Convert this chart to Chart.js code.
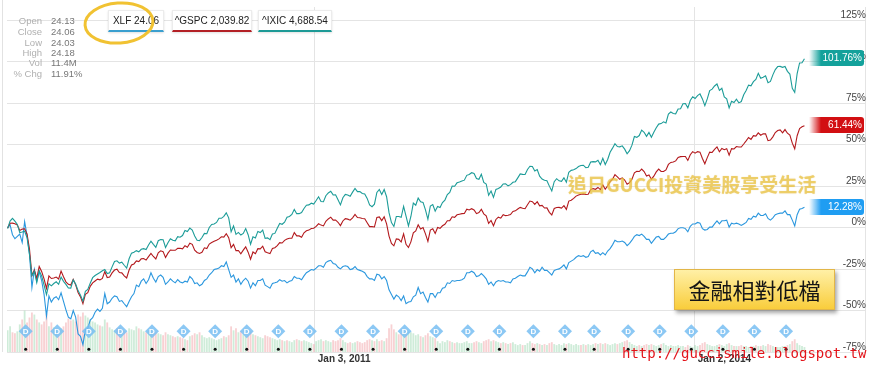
<!DOCTYPE html>
<html><head><meta charset="utf-8">
<script src="https://cdn.jsdelivr.net/npm/chart.js@4.4.1/dist/chart.umd.min.js"></script>
<style>
html,body{margin:0;padding:0;background:#fff;}
#wrap{position:relative;width:872px;height:365px;overflow:hidden;font-family:"Liberation Sans",Arial,sans-serif;}
#c{position:absolute;left:0;top:0;}
#lb{position:absolute;left:2px;top:0;width:1px;height:352px;background:#e2e2e2;}
.lab{position:absolute;font-size:9.5px;color:#b0b0b0;text-align:right;width:42px;left:0;}
.val{position:absolute;font-size:9.5px;color:#777;left:51px;}
.leg{position:absolute;top:10px;height:19px;background:#fff;border:1px solid #ececec;border-bottom:2px solid #000;box-shadow:0 1px 2px rgba(0,0,0,0.12);font-size:10px;color:#222;text-align:center;line-height:19px;white-space:nowrap;}
#wm{position:absolute;left:568px;top:170px;font-family:"Noto Sans CJK TC","Noto Sans CJK SC",sans-serif;font-weight:bold;font-size:19px;color:rgba(238,200,70,0.62);white-space:nowrap;text-shadow:0 0 1px rgba(210,160,30,0.45);}
#note{position:absolute;left:674px;top:269px;width:159px;height:39px;background:linear-gradient(#fff0a6,#f9cd3c);border:1px solid #e2b648;box-shadow:2px 3px 4px rgba(0,0,0,0.35);font-family:"Noto Sans CJK TC","Noto Sans CJK SC",sans-serif;font-size:22px;color:#151515;text-align:center;line-height:39px;}
#url{position:absolute;left:622px;top:345px;font-family:"DejaVu Sans Mono",monospace;font-size:14px;color:#e3141b;white-space:nowrap;line-height:16px;}
#ell{position:absolute;left:0;top:0;}
</style></head>
<body><div id="wrap">
<canvas id="c" width="872" height="365"></canvas>
<div id="lb"></div>
<div class="lab" style="top:15px">Open</div><div class="val" style="top:15px">24.13</div>
<div class="lab" style="top:26px">Close</div><div class="val" style="top:26px">24.06</div>
<div class="lab" style="top:37px">Low</div><div class="val" style="top:37px">24.03</div>
<div class="lab" style="top:47px">High</div><div class="val" style="top:47px">24.18</div>
<div class="lab" style="top:57px">Vol</div><div class="val" style="top:57px">11.4M</div>
<div class="lab" style="top:68px">% Chg</div><div class="val" style="top:68px">11.91%</div>
<div class="leg" style="left:108px;width:54px;border-bottom-color:#3a9fcf">XLF 24.06</div>
<div class="leg" style="left:172px;width:78px;border-bottom-color:#b32025">^GSPC 2,039.82</div>
<div class="leg" style="left:258px;width:72px;border-bottom-color:#1d9a96">^IXIC 4,688.54</div>
<svg id="ell" width="200" height="60"><ellipse cx="119" cy="23" rx="34" ry="20" transform="rotate(-4 119 23)" fill="none" stroke="#f1c232" stroke-width="3"/></svg>
<div id="wm">追日GUCCI投資美股享受生活</div>
<div id="note">金融相對低檔</div>
<div id="url">http://guccismile.blogspot.tw</div>
</div>
<script>
// ---- data (weekly, percent change since start) ----
const START_DATE = '2008-08-01';
const xlfPct = [
 0,1.7,-4.3,-6.7,-5.3,-3.9,-9.0,3.6,-4.8,-16.0,-36.1,-25.3,-32.3,-26.7,-31.9,-40.3,-53.3,-41.2,-44.9,-42.6,-41.7,-43.5,
 -39.3,-44.5,-49.6,-54,-55,-50,-54,-64.1,-65.5,-70.6,
 -61.7,-60.8,-55.7,-54.3,-51.0,-49.1,-50.5,-48.7,-39.8,-45.9,
 -44.9,-42.6,-41.2,-41.7,-44.5,-44.0,-45.9,-47.7,-44.5,-41.7,
 -39.8,-34.7,-35.6,-32.3,-30.9,-33.7,-31.4,-27.2,-30.5,-32.8,
 -29.5,-28.6,-30.0,-34.2,-32.8,-30.9,-32.3,-33.3,-31.4,-32.8,
 -33.3,-32.3,-32.8,
 -29.5,-30.9,-33.7,-33.3,-35.1,-34.2,-31.9,-30.9,-28.6,-27.2,
 -25.3,-24.9,-24.4,-23.0,-23.5,-20.7,-25.3,-30.0,-28.6,-32.8,
 -30.9,-34.2,-31.9,-30.5,-32.3,-36.5,-33.3,-35.1,-31.9,-31.9,
 -30.9,-34.7,-35.6,-36.5,-33.7,-33.3,-32.8,-31.4,-32.3,-31.9,
 -33.3,-32.3,-31.9,-29.5,-30.5,-30.5,-31.4,-29.1,-27.2,-26.3,
 -25.3,-25.6,
 -24.4,-23.0,-23.0,-23.9,-21.1,-20.2,-19.7,-21.6,-22.1,-23.9,
 -24.9,-23.5,-23.0,-23.5,-25.3,-24.9,-23.5,-25.3,-25.8,-26.3,
 -27.2,-29.5,-30.9,-30.9,-31.9,-28.1,-28.6,-30.9,-29.5,-31.9,
 -37.5,-40.3,-43.1,-40.7,-41.7,-44.0,-41.2,-45.9,-44.9,-44.5,
 -41.7,-40.7,-36.1,-39.8,-38.9,-42.1,-44.9,-39.8,-39.8,-42.1,
 -39.3,-39.3,
 -36.5,-36.1,-33.3,-33.7,-31.9,-32.3,-31.9,-31.9,-31.4,-30.5,
 -27.2,-27.2,-26.3,-27.2,-29.5,-29.1,-27.7,-29.1,-30.9,-34.2,
 -32.8,-35.1,-32.8,-31.9,-32.3,-31.9,-32.8,-32.8,-33.3,-30.9,
 -30.5,-29.5,-28.6,-29.1,-29.1,-26.7,-23.9,-24.9,-27.2,-25.3,
 -26.3,-23.9,-25.8,-25.8,-27.2,-28.6,-25.8,-25.3,-24.9,-23.9,
 -22.5,-24.9,
 -21.1,-20.2,-19.3,-17.9,-16.9,-17.4,-16.9,-17.9,-17.4,-14.6,
 -13.7,-15.5,-15.1,-16.5,-15.1,-16.5,-14.1,-12.7,-10.4,-7.6,
 -8.5,-8.5,-8.1,-9.0,-10.9,-9.5,-7.6,-5.3,-4.3,-4.8,
 -3.9,-5.3,-7.1,-7.1,-9.5,-7.6,-5.7,-5.3,-7.1,-7.1,
 -5.7,-3.9,-3.4,-3.4,-2.5,-0.6,-0.1,-0.1,-0.6,-2.5,
 0.8,2.2,
 2.2,3.1,2.7,-0.6,-1.5,-1.1,0.3,0.3,2.2,4.1,
 2.2,4.1,4.1,4.5,0.3,2.7,2.2,2.7,2.2,1.3,
 2.2,3.1,5.5,5.0,6.9,6.4,8.7,7.3,7.3,8.3,
 5.5,4.5,5.9,7.8,8.3,8.7,8.7,10.1,7.8,7.8,
 4.5,1.0,7.8,11.1,11.5,12.28
];
const gspcPct = [
 -0.3,2.6,2.7,2.3,1.5,-1.7,-0.9,-0.7,-4.0,-13.0,-28.8,-25.6,-30.6,-23.4,-26.4,-30.9,-36.7,-29.1,-30.7,-30.4,-29.8,-31.0,
 -26.2,-29.6,-32.7,-34.2,-34.6,-31.2,-34.5,-39.1,-41.8,-45.9,
 -40.2,-39.2,-35.4,-33.3,-32.2,-31.1,-31.5,-30.6,-26.5,-30.1,
 -29.8,-27.3,-25.6,-25.1,-27.1,-27.3,-29.1,-30.4,-25.6,-22.5,
 -21.9,-20.1,-20.5,-18.8,-18.6,-19.6,-17.5,-15.5,-17.4,-18.9,
 -15.2,-14.0,-14.5,-18.0,-15.4,-13.5,-13.7,-13.7,-12.5,-12.5,
 -12.8,-10.9,-11.8,
 -9.4,-10.1,-13.6,-15.0,-15.6,-14.9,-12.2,-12.6,-9.9,-9.0,
 -8.2,-7.6,-6.8,-5.5,-5.7,-3.7,-6.1,-12.1,-10.1,-13.9,
 -13.8,-15.8,-13.6,-11.6,-14.8,-19.1,-14.7,-15.7,-12.7,-12.8,
 -11.2,-14.6,-15.2,-15.7,-12.6,-12.1,-10.9,-9.1,-9.3,-7.7,
 -6.9,-6.4,-6.4,-3.0,-5.0,-5.0,-5.8,-3.1,-1.9,-1.5,
 -0.5,-0.4,
 0.7,2.3,1.5,1.0,3.8,5.2,6.3,4.5,4.6,3.2,
 1.2,4.0,5.4,5.1,4.5,5.9,8.0,6.1,5.9,5.5,
 5.3,2.9,0.6,0.6,0.4,6.1,6.4,4.2,6.5,2.3,
 -5.1,-9.5,-11.0,-6.8,-7.1,-8.7,-3.8,-10.1,-12.0,-8.6,
 -3.1,-2.0,1.7,-0.8,0.0,-3.8,-8.3,-1.5,-0.7,-3.5,
 0.1,-0.4,
 1.1,2.0,4.1,4.2,6.5,6.2,7.7,8.1,8.4,8.5,
 11.1,10.6,11.4,10.6,8.4,9.1,11.0,8.3,7.1,2.5,
 4.3,1.1,4.9,6.3,5.7,7.8,7.2,7.4,7.9,9.7,
 10.1,11.2,12.2,11.7,11.4,13.8,16.0,15.6,14.0,15.6,
 13.1,13.4,11.8,11.9,9.2,7.6,11.5,12.1,12.2,11.8,
 13.2,11.0,
 16.0,16.5,17.6,19.0,19.7,20.1,20.3,20.0,20.1,22.8,
 23.5,23.1,24.2,22.9,25.7,23.1,25.2,27.7,29.2,31.9,
 30.6,29.1,30.0,28.7,26.1,27.1,29.2,33.0,33.9,33.8,
 35.3,33.8,31.1,31.7,29.2,31.0,33.6,35.3,33.9,33.8,
 34.8,38.1,39.3,39.5,40.2,42.3,42.8,42.9,42.9,40.5,
 43.9,45.8,
 44.9,45.8,45.5,41.7,38.5,42.2,45.5,45.3,47.1,48.6,
 45.7,47.7,47.0,47.6,43.7,47.6,47.4,48.9,48.6,48.6,
 50.4,52.3,54.3,53.2,55.4,55.2,57.1,55.7,56.5,56.5,
 52.4,52.8,54.7,57.3,58.5,58.9,57.1,59.1,56.9,55.8,
 50.9,47.5,55.4,59.7,60.8,61.44
];
const ixicPct = [
 -0.6,3.9,5.6,3.9,1.9,-3.0,-2.7,-2.2,-6.1,-16.2,-29.0,-26.4,-33.2,-26.0,-29.1,-34.7,-40.4,-33.9,-35.1,-33.7,-32.7,-34.2,
 -29.8,-32.4,-34.2,-36.4,-36.5,-31.5,-34.0,-38.0,-40.7,-44.4,
 -38.4,-37.3,-33.5,-30.2,-28.9,-28.0,-27.1,-26.0,-25.2,-27.7,
 -27.2,-23.7,-20.4,-20.0,-21.4,-20.9,-22.7,-24.4,-18.8,-15.4,
 -14.8,-13.9,-14.6,-13.1,-12.7,-13.2,-10.5,-8.2,-10.1,-11.9,
 -7.9,-7.2,-7.3,-12.0,-9.1,-6.7,-7.6,-8.0,-5.5,-5.8,
 -4.8,-1.7,-2.4,
 -0.3,-1.5,-5.1,-7.6,-7.9,-6.0,-3.5,-3.7,0.1,1.9,
 2.2,3.1,5.6,5.6,6.8,8.9,5.9,-2.5,1.0,-4.1,
 -2.9,-4.5,-3.5,-0.6,-4.3,-10.0,-5.5,-6.2,-2.3,-3.0,
 -1.5,-6.5,-6.2,-7.3,-3.9,-3.5,-0.4,2.5,2.0,3.3,
 6.2,6.7,7.9,11.0,8.4,8.4,9.1,11.5,13.5,13.7,
 14.7,14.2,
 16.3,18.6,15.7,15.6,19.2,20.9,21.9,19.7,19.8,16.8,
 13.7,18.0,20.0,19.6,18.9,21.4,23.6,21.7,21.7,20.6,
 20.3,17.6,13.7,12.6,14.1,21.2,23.0,20.0,23.0,18.6,
 9.0,3.0,0.7,6.7,6.7,6.2,12.8,6.9,1.0,6.7,
 14.8,13.5,17.8,15.6,15.2,10.7,5.0,13.0,13.9,9.9,
 12.7,12.1,
 15.1,16.6,19.9,21.2,25.0,24.9,27.0,27.5,28.1,28.6,
 31.5,32.0,33.1,32.6,29.6,29.1,32.1,27.2,26.3,19.5,
 22.1,18.2,23.0,23.6,24.5,26.3,26.4,25.2,25.9,27.3,
 27.7,30.0,32.4,32.1,32.0,35.0,37.0,36.8,34.1,35.0,
 31.0,29.3,28.5,28.3,25.0,22.1,27.7,29.5,28.2,27.9,
 30.0,27.4,
 33.4,34.5,34.9,35.6,36.8,37.4,37.6,36.1,36.4,39.6,
 39.8,39.6,40.6,37.9,41.8,38.0,41.1,45.4,47.9,50.6,
 48.9,48.7,49.3,47.3,44.5,46.4,49.7,54.9,54.4,55.5,
 58.8,57.5,55.0,57.4,54.5,57.5,60.2,62.4,62.7,63.8,
 63.1,68.4,69.7,68.8,68.6,71.5,71.7,74.7,74.8,72.2,
 76.6,78.9,
 77.8,79.6,80.6,77.6,73.5,77.6,82.6,83.5,85.4,86.6,
 82.7,84.0,78.8,77.6,72.1,76.2,75.4,77.4,75.2,76.0,
 80.1,82.6,85.9,85.5,88.0,89.3,93.0,90.0,90.7,91.5,
 87.3,88.1,92.1,95.3,97.1,97.2,96.6,97.1,94.2,92.6,
 84.0,81.5,92.9,99.3,99.4,101.76
];
// XLF average daily volume (millions) per week
const xlfVolume = [
 220,260,200,190,210,280,330,420,300,350,400,380,330,300,280,310,390,260,300,250,220,180,
 240,260,300,340,320,330,310,380,360,400,370,350,330,310,300,280,270,260,330,300,
 250,230,220,240,250,230,210,200,240,230,220,260,240,230,210,200,220,230,210,200,
 190,180,170,200,180,170,160,150,160,150,140,130,120,
 160,170,190,180,200,170,150,140,150,140,130,120,130,140,160,150,170,260,220,240,
 200,210,180,160,170,210,180,170,160,150,140,170,160,150,140,130,120,130,120,110,
 120,110,100,120,130,120,110,120,110,100,90,80,
 110,120,130,110,120,110,100,120,110,120,140,120,100,90,100,90,100,110,100,90,
 100,120,130,120,110,130,110,120,110,140,240,280,230,200,180,190,200,220,210,200,
 190,170,180,160,150,170,190,160,150,140,110,90,
 110,100,120,110,100,90,100,90,90,100,110,90,90,100,110,100,90,110,120,130,
 110,120,110,100,90,100,90,80,90,100,80,70,80,70,70,90,110,90,80,90,
 80,70,80,70,90,100,80,70,80,70,90,80,
 90,80,70,80,70,70,80,70,80,70,80,90,80,90,80,90,80,70,80,90,
 80,90,100,110,120,100,80,70,60,70,60,70,80,70,80,70,60,70,80,90,
 70,60,70,60,60,70,60,60,50,70,60,50,
 70,60,70,90,100,80,70,60,60,70,80,70,60,80,90,70,60,60,60,70,
 60,60,50,60,60,70,60,60,70,60,80,70,60,50,50,50,60,60,70,80,
 110,130,90,70,60,50
];
const dividendDates = ['2008-09-22','2008-12-22','2009-03-23','2009-06-22','2009-09-21','2009-12-21',
 '2010-03-22','2010-06-21','2010-09-20','2010-12-20','2011-03-21','2011-06-20','2011-09-19','2011-12-19',
 '2012-03-19','2012-06-18','2012-09-24','2012-12-24','2013-03-18','2013-06-24','2013-09-23','2013-12-23',
 '2014-03-24','2014-06-23','2014-09-22'];
const xTickDates = ['2011-01-03','2014-01-02'];
const xTickLabels = ['Jan 3, 2011','Jan 2, 2014'];
const yTicks = [125,100,75,50,25,0,-25,-50,-75];

// ---- style / layout constants ----
const DAY = 864e5;
const t0 = Date.parse(START_DATE);
const weekDates = xlfPct.map((_, i) => t0 + i * 7 * DAY);
const T2011 = Date.parse(xTickDates[0]);
const X_MIN = T2011 - 886.8 * DAY, X_MAX = T2011 + 1585.5 * DAY;
const Y_MIN = -75, Y_MAX = 133.0;
const DIV_MARK_Y = -62.5, EVENT_DOT_Y = -73.3;
const C_XLF = '#2b97de', C_GSPC = '#b3191d', C_IXIC = '#1c9c98';
const BOX_XLF = '#1f9df2', BOX_GSPC = '#d20f12', BOX_IXIC = '#13a19b';

const pts = arr => arr.map((v, i) => ({x: weekDates[i], y: v}));
const volColors = xlfVolume.map((v, i) => (i === 0 || xlfPct[i] >= xlfPct[i-1]) ? 'rgba(140,210,165,0.42)' : 'rgba(238,145,150,0.42)');

function hexA(hex, a){const n=parseInt(hex.slice(1),16);return `rgba(${n>>16&255},${n>>8&255},${n&255},${a})`;}

const overlay = {
  id: 'overlay',
  afterDatasetsDraw(chart) {
    const ctx = chart.ctx, area = chart.chartArea;
    ctx.save();
    const md = chart.getDatasetMeta(4);
    ctx.fillStyle = '#fff'; ctx.font = 'bold 8px "Liberation Sans"';
    ctx.textAlign = 'center'; ctx.textBaseline = 'middle';
    md.data.forEach(p => ctx.fillText('D', p.x, p.y + 0.5));
    [[3, BOX_IXIC, ixicPct], [2, BOX_GSPC, gspcPct], [1, BOX_XLF, xlfPct]].forEach(([di, col, arr]) => {
      const m = chart.getDatasetMeta(di);
      const p = m.data[m.data.length - 1];
      const x0 = 809, x1 = area.right - 1, h = 16, y0 = Math.round(p.y - 8.5);
      const g = ctx.createLinearGradient(x0, 0, x0 + 12, 0);
      g.addColorStop(0, hexA(col, 0)); g.addColorStop(1, col);
      ctx.fillStyle = g;
      ctx.beginPath(); ctx.roundRect(x0, y0, x1 - x0, h, [0, 3, 3, 0]); ctx.fill();
      ctx.fillStyle = '#fff'; ctx.font = '10px "Liberation Sans"';
      ctx.textAlign = 'right'; ctx.textBaseline = 'middle';
      ctx.fillText(arr[arr.length - 1].toFixed(2) + '%', x1 - 2, y0 + h / 2 + 0.5);
    });
    ctx.restore();
  }
};

new Chart(document.getElementById('c'), {
  data: {
    datasets: [
      {type: 'bar', data: pts(xlfVolume), yAxisID: 'yVol', backgroundColor: volColors, barPercentage: 0.75, categoryPercentage: 1, order: 10},
      {type: 'line', data: pts(xlfPct), borderColor: C_XLF, borderWidth: 1.1, pointRadius: 0, order: 3},
      {type: 'line', data: pts(gspcPct), borderColor: C_GSPC, borderWidth: 1.1, pointRadius: 0, order: 2},
      {type: 'line', data: pts(ixicPct), borderColor: C_IXIC, borderWidth: 1.1, pointRadius: 0, order: 1},
      {type: 'scatter', data: dividendDates.map(d => ({x: Date.parse(d), y: DIV_MARK_Y})), pointStyle: 'rectRot', pointRadius: 7, backgroundColor: 'rgba(120,190,242,0.85)', borderWidth: 0, order: 0},
      {type: 'scatter', data: dividendDates.map(d => ({x: Date.parse(d), y: EVENT_DOT_Y})), pointStyle: 'circle', pointRadius: 1.5, backgroundColor: '#111', borderWidth: 0, order: 0}
    ]
  },
  options: {
    responsive: false, animation: false,
    layout: {padding: {left: 2, right: 1, top: 0, bottom: 0}},
    plugins: {legend: {display: false}, tooltip: {enabled: false}},
    scales: {
      x: {
        type: 'linear', min: X_MIN, max: X_MAX, offset: false,
        grid: {color: '#e4e4e4', drawTicks: false, offset: false},
        border: {display: false},
        afterBuildTicks: s => { s.ticks = xTickDates.map(d => ({value: Date.parse(d)})); },
        afterFit: s => { s.height = 13; },
        ticks: {
          align: 'start', padding: 1, maxRotation: 0, autoSkip: false, labelOffset: 3,
          color: '#333', font: {family: 'Liberation Sans', size: 10, weight: 'bold'},
          callback: v => { const k = xTickDates.findIndex(d => Date.parse(d) === v); return k >= 0 ? xTickLabels[k] : ''; }
        }
      },
      y: {
        position: 'right', min: Y_MIN, max: Y_MAX,
        grid: {color: '#e4e4e4', drawTicks: false},
        border: {display: true, color: '#e4e4e4'},
        afterBuildTicks: s => { s.ticks = yTicks.map(v => ({value: v})); },
        afterFit: s => { s.paddingTop = 0; s.paddingBottom = 0; },
        ticks: {mirror: true, padding: 1, labelOffset: -5, color: '#444', font: {family: 'Liberation Sans', size: 10},
          callback: v => v + '%'}
      },
      yVol: {display: false, min: 0, max: 3500}
    }
  },
  plugins: [overlay]
});
</script></body></html>
